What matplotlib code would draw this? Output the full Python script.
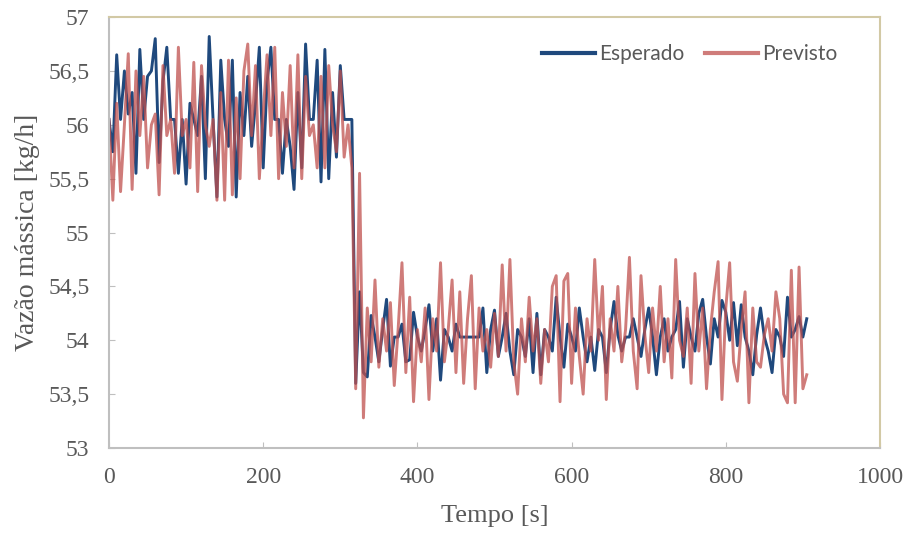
import numpy as np
import matplotlib
matplotlib.use('Agg')
import matplotlib.pyplot as plt

# vazão mássica esperada (medida) e prevista pelo modelo, amostrada a cada 5 s
passo = 5

esperado = [
    # 0 - 315 s
    56.05, 55.75, 56.65, 56.05, 56.50, 56.10, 56.30, 55.55, 56.70, 56.05,
    56.45, 56.50, 56.80, 55.65, 56.40, 56.72, 56.05, 56.05, 55.55, 56.05,
    55.45, 56.20, 56.05, 55.90, 56.45, 55.50, 56.82, 56.05, 55.33, 56.60,
    56.05, 55.80, 56.60, 55.33, 56.30, 55.90, 56.45, 55.80, 56.20, 56.72,
    55.60, 56.40, 56.72, 56.05, 56.05, 55.55, 56.05, 55.80, 55.40, 56.30,
    55.60, 56.75, 56.05, 56.05, 56.60, 55.47, 56.70, 55.50, 56.30, 55.70,
    56.55, 56.05, 56.05, 56.05,
    # degrau
    53.60, 54.45, 53.70,
    # 335 - 905 s
    53.66, 54.23, 54.03, 53.80, 54.10, 54.38, 53.76, 54.03, 54.03, 54.15,
    53.80, 53.82, 54.26, 54.03, 53.90, 54.10, 54.33, 53.90, 54.20, 53.63,
    54.10, 54.03, 53.90, 54.15, 54.03, 54.03, 54.03, 54.03, 54.03, 54.03,
    54.30, 53.70, 54.10, 54.28, 53.85, 54.03, 54.25, 53.90, 53.68, 54.10,
    54.03, 53.85, 54.20, 53.70, 54.25, 53.68, 54.10, 54.03, 53.90, 54.40,
    54.03, 53.75, 54.15, 54.03, 53.90, 54.30, 54.03, 53.80, 54.03, 53.72,
    54.10, 54.03, 53.70, 54.10, 54.36, 54.05, 53.90, 54.03, 54.03, 54.20,
    54.03, 53.85, 54.10, 54.30, 54.03, 53.68, 54.03, 54.20, 53.90, 54.03,
    54.10, 54.36, 53.75, 54.20, 54.03, 53.90, 54.25, 54.38, 54.03, 53.78,
    54.20, 54.03, 54.37, 54.26, 54.00, 54.35, 53.95, 54.33, 54.03, 53.90,
    53.68, 54.05, 54.30, 54.03, 53.90, 53.70, 54.10, 54.03, 53.85, 54.40,
    54.03, 54.10, 54.22, 54.03, 54.20,
]

previsto = [
    # 0 - 315 s
    56.05, 55.30, 56.20, 55.38, 56.00, 56.66, 55.40, 56.50, 55.90, 56.45,
    55.60, 56.00, 56.10, 55.35, 56.55, 55.90, 56.05, 55.55, 56.72, 55.90,
    56.05, 55.60, 56.58, 55.38, 56.55, 56.00, 55.80, 56.05, 55.30, 56.30,
    55.30, 56.60, 55.35, 56.25, 55.50, 56.50, 56.75, 55.90, 56.55, 55.50,
    56.10, 56.65, 55.90, 56.72, 55.50, 56.30, 55.80, 56.55, 55.60, 56.65,
    55.50, 56.45, 55.90, 56.00, 55.60, 56.45, 55.60, 56.55, 56.00, 55.75,
    56.50, 55.70, 56.00, 55.60,
    # degrau
    53.55, 55.55, 53.28,
    # 335 - 905 s
    54.30, 53.80, 54.56, 53.75, 54.20, 53.90, 54.35, 53.58, 54.10, 54.72,
    53.70, 54.40, 53.43, 54.10, 53.80, 54.30, 53.45, 54.20, 53.90, 54.72,
    53.80, 54.10, 54.56, 53.70, 54.45, 53.60, 54.20, 54.60, 53.55, 54.30,
    53.90, 54.10, 53.75, 54.25, 53.85, 54.70, 53.90, 54.75, 53.80, 53.50,
    54.20, 53.80, 54.40, 53.90, 54.20, 53.60, 54.10, 53.80, 54.50, 54.60,
    53.43, 54.55, 54.62, 53.60, 54.30, 53.85, 53.50, 54.20, 53.90, 54.75,
    54.00, 54.50, 53.45, 54.20, 53.90, 54.50, 53.80, 54.10, 54.77, 53.90,
    53.55, 54.60, 54.05, 53.70, 54.30, 53.90, 54.50, 53.80, 54.20, 53.65,
    54.75, 54.00, 53.85, 54.30, 53.60, 54.62, 53.90, 54.30, 53.55, 54.10,
    54.45, 54.73, 53.45, 54.30, 54.72, 53.80, 53.62, 54.10, 54.45, 53.42,
    54.30, 53.80, 53.75, 54.05, 54.20, 53.90, 54.45, 54.20, 53.50, 53.42,
    54.65, 53.42, 54.68, 53.55, 53.68,
]

t_esp = np.arange(len(esperado)) * passo
t_prev = np.arange(len(previsto)) * passo

xticks = [0, 200, 400, 600, 800, 1000]
yticks = [53, 53.5, 54, 54.5, 55, 55.5, 56, 56.5, 57]
ytick_labels = ['53', '53,5', '54', '54,5', '55', '55,5', '56', '56,5', '57']

cinza = '#595959'

fig = plt.figure(figsize=(9.09, 5.34), dpi=100)
ax = fig.add_axes([0.1199, 0.161, 0.8482, 0.807])

ax.plot(t_esp, esperado, color='#1F497D', lw=2.1, label='Esperado')
ax.plot(t_prev, previsto, color='#C0504D', lw=2.1, alpha=0.75, label='Previsto')

ax.set_xlim(0, 1000)
ax.set_ylim(53, 57)
ax.set_xticks(xticks)
ax.set_yticks(yticks)
ax.set_yticklabels(ytick_labels)

serif = ['Liberation Serif', 'DejaVu Serif']
for lab in ax.get_xticklabels() + ax.get_yticklabels():
    lab.set_fontfamily(serif)
    lab.set_fontsize(17)
    lab.set_color(cinza)
ax.tick_params(axis='both', direction='in', length=4, color='#BFBFBF')
ax.tick_params(axis='x', pad=14)
ax.tick_params(axis='y', pad=14)

for lado in ['left', 'bottom']:
    ax.spines[lado].set_color('#BFBFBF')
    ax.spines[lado].set_linewidth(1.5)
for lado in ['top', 'right']:
    ax.spines[lado].set_color('#D2C9A5')
    ax.spines[lado].set_linewidth(1.5)

ax.set_xlabel('Tempo [s]', family=serif, fontsize=19, color=cinza, labelpad=12)
ax.set_ylabel('Vazão mássica [kg/h]', family=serif, fontsize=20, color=cinza, labelpad=6)

leg = ax.legend(loc='center right', bbox_to_anchor=(0.9585, 0.914), ncol=2, frameon=False,
                borderpad=0, handlelength=2.55, handletextpad=0.2, columnspacing=1.0,
                prop={'family': ['Lato', 'DejaVu Sans'], 'size': 15})
for txt in leg.get_texts():
    txt.set_color(cinza)
for ln in leg.get_lines():
    ln.set_linewidth(3)

fig.savefig('out.png', dpi=100)
